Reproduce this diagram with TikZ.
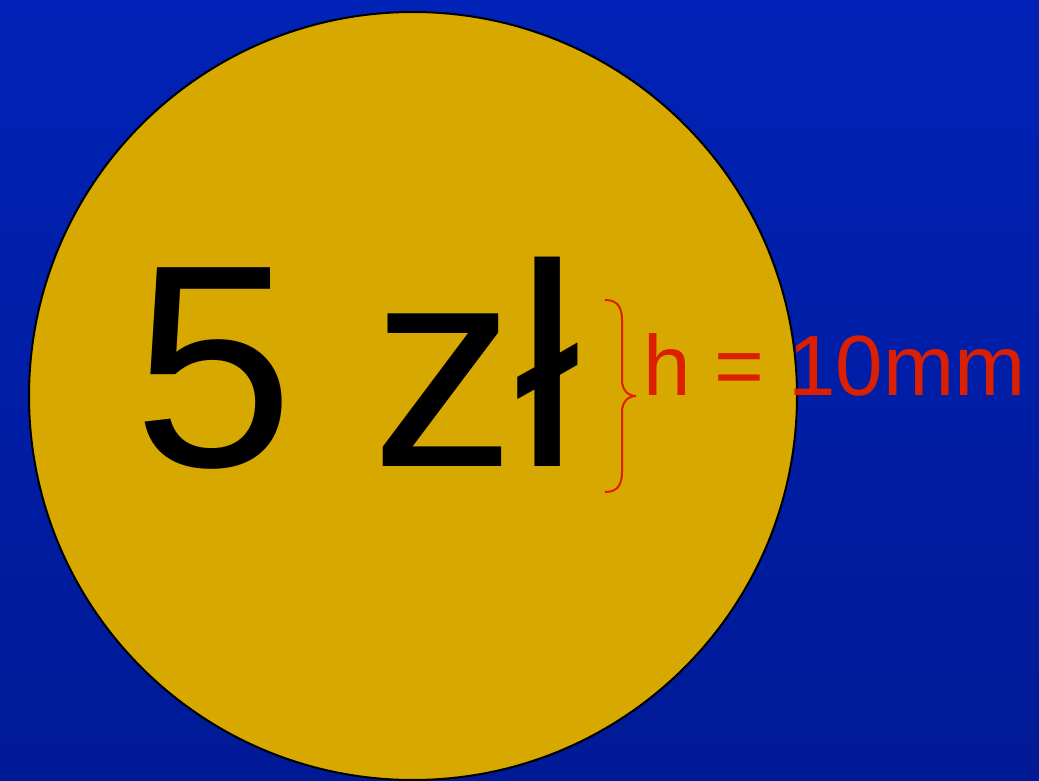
\documentclass[tikz,border=0pt]{standalone}
\usepackage{fontspec}
\setmainfont{Liberation Sans}
\definecolor{bgtop}{RGB}{0,34,182}
\definecolor{bgbot}{RGB}{0,26,150}
\definecolor{coin}{RGB}{214,168,0}
\definecolor{lab}{RGB}{218,32,0}
\tikzset{
  coinshape/.style={circle, draw=black, line width=2pt, fill=coin, minimum size=768pt, inner sep=0pt},
  bigtext/.style={anchor=base west, inner sep=0pt, text=black, font=\fontsize{289}{300}\selectfont},
  labtext/.style={anchor=base west, inner sep=0pt, text=lab, font=\fontsize{85.5}{90}\selectfont},
  bracestyle/.style={draw=lab, line width=2pt}
}
\begin{document}
\begin{tikzpicture}[x=1pt,y=1pt]
\shade[top color=bgtop, bottom color=bgbot] (0,0) rectangle (1039,780);
\useasboundingbox (0,0) rectangle (1039,780);
\node[coinshape] (coin) at (413,384) {};
\node[bigtext] (value) at (133,313) {5\hspace{-3pt} zł};
\coordinate (btop) at (605,480);
\coordinate (bbot) at (605,288);
\coordinate (btip) at (636,384);
\draw[bracestyle] (btop) .. controls (618,480) and (622,472) .. (622,460)
  -- (622,400) .. controls (622,390) and (628,384) .. (btip)
  .. controls (628,384) and (622,378) .. (622,368)
  -- (622,308) .. controls (622,296) and (618,288) .. (bbot);
\node[labtext] (h) at (643,384) {h = 10mm};
\end{tikzpicture}
\end{document}
